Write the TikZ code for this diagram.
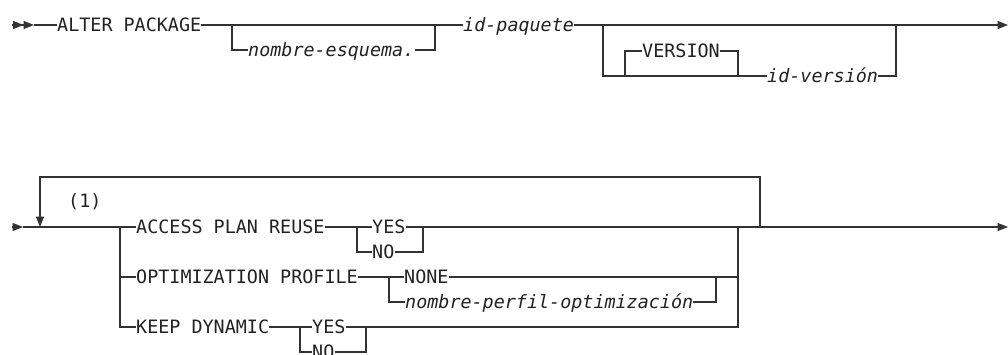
\documentclass[tikz,border=0pt]{standalone}
\usepackage{fontspec}
\newfontfamily\rrfont{DejaVu Sans Mono}
\usetikzlibrary{arrows.meta}
\definecolor{linec}{HTML}{333333}
\definecolor{txtc}{HTML}{222222}
\tikzset{
  kw/.style={anchor=west, inner sep=0pt, text height=13.3pt, text depth=0pt,
    font=\rrfont\fontsize{18.4}{20}\selectfont, text=txtc},
  var/.style={kw, font=\rrfont\itshape\fontsize{18.4}{20}\selectfont},
  rail/.style={draw=linec, line width=1.1pt},
  tip/.style={-{Triangle[length=10.5pt,width=8pt]}},
  dtip/.style={-{Triangle[length=10.5pt,width=8pt]Triangle[length=10.5pt,width=8pt]}}
}
\begin{document}
\begin{tikzpicture}[x=1pt,y=-1pt]
\useasboundingbox (0,0) rectangle (1008,354);
% ---------- row 1 ----------
\node[kw]  (alter)   at (57,25)  {ALTER PACKAGE};
\node[var] (schema)  at (248,50) {nombre-esquema.};
\node[var] (idpaq)   at (463,25) {id-paquete};
\node[kw]  (version) at (642,51) {VERSION};
\node[var] (idver)   at (767,76) {id-versión};
\coordinate (r1s) at (12,25);
\coordinate (r1a) at (34,25);
\coordinate (r1e) at (1008,25);
\coordinate (j1) at (232,25);
\coordinate (j2) at (435,25);
\coordinate (j3) at (603,25);
\coordinate (j4) at (896,25);
\coordinate (j5) at (625,76);
\coordinate (j6) at (738,76);
\draw[rail,dtip] (r1s) -- (r1a);
\draw[rail] (r1a) -- (alter.west);
\draw[rail] (alter.east) -- (idpaq.west);
\draw[rail] (j1) |- (schema.west);
\draw[rail] (schema.east) -| (j2);
\draw[rail,tip] (idpaq.east) -- (r1e);
\draw[rail] (j3) |- (idver.west);
\draw[rail] (idver.east) -| (j4);
\draw[rail] (j5) |- (version.west);
\draw[rail] (version.east) -| (j6);
% ---------- row 2 ----------
\node[kw]  (access) at (136,227) {ACCESS PLAN REUSE};
\node[kw]  (opt)    at (136,277) {OPTIMIZATION PROFILE};
\node[kw]  (keep)   at (136,327) {KEEP DYNAMIC};
\node[kw]  (yes1)   at (372,227) {YES};
\node[kw]  (no1)    at (372,252) {NO};
\node[kw]  (none)   at (404,277) {NONE};
\node[var] (perf)   at (405,302) {nombre-perfil-optimización};
\node[kw]  (yes3)   at (312,327) {YES};
\node[kw]  (no3)    at (312,352) {NO};
\node[kw]  (note)   at (68,201)  {(1)};
\coordinate (r2s) at (12,227);
\coordinate (r2a) at (23,227);
\coordinate (r2e) at (1008,227);
\coordinate (lpL) at (40,227);
\coordinate (lpR) at (760,227);
\coordinate (lpT) at (760,177);
\coordinate (b0) at (120,227);
\coordinate (r2j) at (738,227);
\coordinate (a1) at (357,227);
\coordinate (a2) at (423,227);
\coordinate (o1) at (389,277);
\coordinate (o2) at (716,277);
\coordinate (k1) at (300,327);
\coordinate (k2) at (366,327);
\draw[rail,tip] (r2s) -- (r2a);
\draw[rail] (r2a) -- (access.west);
\draw[rail,tip] (lpR) -- (lpT) -| (lpL);
\draw[rail] (b0) |- (opt.west);
\draw[rail] (b0) |- (keep.west);
\draw[rail] (access.east) -- (yes1.west);
\draw[rail,tip] (yes1.east) -- (r2e);
\draw[rail] (a1) |- (no1.west);
\draw[rail] (no1.east) -| (a2);
\draw[rail] (opt.east) -- (none.west);
\draw[rail] (none.east) -| (r2j);
\draw[rail] (o1) |- (perf.west);
\draw[rail] (perf.east) -| (o2);
\draw[rail] (keep.east) -- (yes3.west);
\draw[rail] (yes3.east) -| (r2j);
\draw[rail] (k1) |- (no3.west);
\draw[rail] (no3.east) -| (k2);
\end{tikzpicture}
\end{document}
